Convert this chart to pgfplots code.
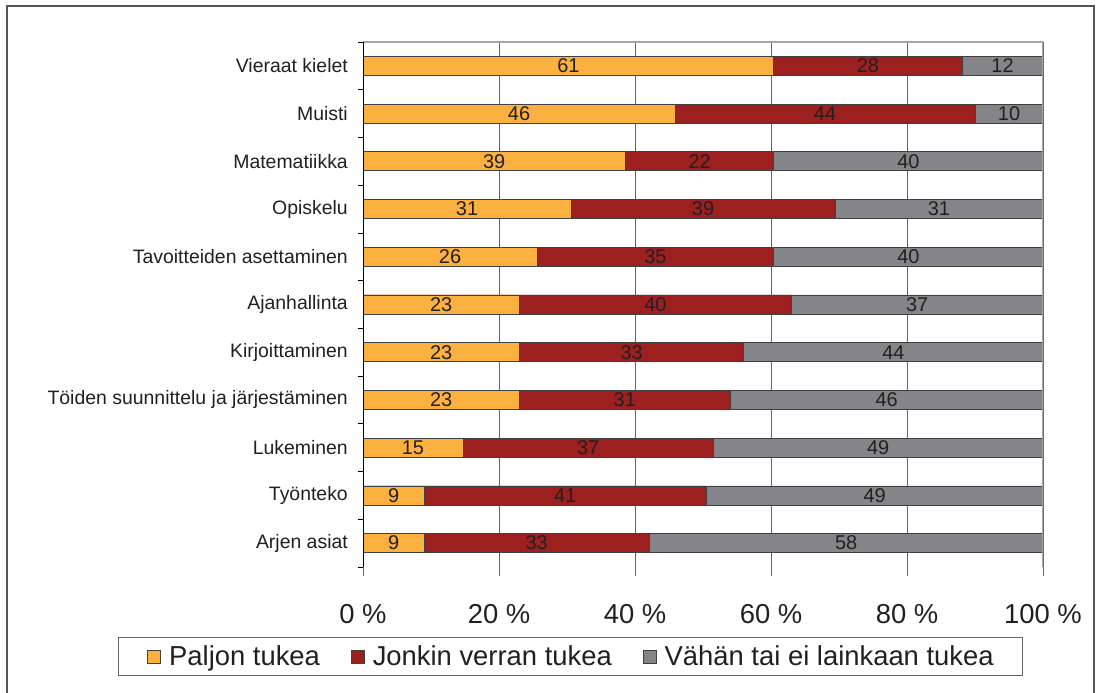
\documentclass[border=0pt]{standalone}
\usepackage{pgfplots}
\pgfplotsset{compat=1.18}
\usepackage{pgfplotstable}
\usepackage{fontspec}
\setmainfont{Liberation Sans}
\definecolor{cOr}{HTML}{FBB040}
\definecolor{cRd}{HTML}{9D2021}
\definecolor{cGy}{HTML}{838588}
\definecolor{cBd}{HTML}{404040}
\definecolor{cGrid}{HTML}{666666}
\definecolor{cTx}{HTML}{231F20}
\definecolor{cFrame}{HTML}{555555}

\pgfplotstableread{
y a b c la lb lc
10 60.4 27.7 11.9 61 28 12
9 45.9 44.1 10.0 46 44 10
8 38.6 21.8 39.6 39 22 40
7 30.6 38.8 30.6 31 39 31
6 25.6 34.8 39.6 26 35 40
5 23.0 40.0 37.0 23 40 37
4 23.0 33.0 44.0 23 33 44
3 23.0 31.0 46.0 23 31 46
2 14.7 36.8 48.5 15 37 49
1 9.0 41.5 49.5 9 41 49
0 9.0 33.1 57.9 9 33 58
}\datatable

\begin{document}
\begin{tikzpicture}
\useasboundingbox (0,0) rectangle (1101bp,693bp);
\draw[cFrame, line width=2bp] (7bp,-10bp) -- (7bp,687bp) -- (1094bp,687bp) -- (1094bp,-10bp);
\begin{axis}[
  at={(363bp,126bp)}, anchor=south west, scale only axis,
  width=680bp, height=525bp,
  xmin=0, xmax=100, ymin=-0.5, ymax=10.5,
  axis line style={draw=none},
  xtick={0,20,...,100},
  xticklabels={0 \%,20 \%,40 \%,60 \%,80 \%,100 \%},
  xtick pos=bottom, ytick pos=left, tick align=outside,
  xmajorgrids, major grid style={cGrid, line width=0.8bp},
  major tick length=9bp, minor tick length=5bp,
  major x tick style={cGrid, line width=0.8bp},
  ytick={0,...,10},
  yticklabels={Arjen asiat,Työnteko,Lukeminen,Töiden suunnittelu ja järjestäminen,Kirjoittaminen,Ajanhallinta,Tavoitteiden asettaminen,Opiskelu,Matematiikka,Muisti,Vieraat kielet},
  major y tick style={draw=none},
  minor ytick={-0.5,0.5,...,10.5},
  minor y tick style={black, line width=0.8bp},
  xticklabel style={font=\fontsize{27.5}{30}\selectfont, text=cTx, yshift=-25bp},
  yticklabel style={font=\fontsize{19.5}{22}\selectfont, text=cTx, inner xsep=0pt, xshift=-6bp},
  reverse legend,
  legend columns=3,
  legend style={at={(axis description cs:-0.3603,-0.1333)}, anchor=north west,
    draw=cGrid, line width=0.8bp, font=\fontsize{27.5}{30}\selectfont, text=cTx,
    inner xsep=29bp, inner ysep=6.5bp, nodes={inner xsep=0bp, inner ysep=2bp},
    /tikz/every even column/.append style={column sep=31bp},
    /tikz/every odd column/.append style={column sep=8bp}},
  legend image code/.code={\draw[#1, draw=cBd, line width=0.8bp] (0bp,-6.5bp) rectangle (13bp,6.5bp);},
]
\addplot[xbar, bar width=19bp, bar shift=0pt, fill=cGy, draw=cBd, line width=0.8bp]
  table[x expr=\thisrow{a}+\thisrow{b}+\thisrow{c}, y=y] {\datatable};
\addlegendentry{Vähän tai ei lainkaan tukea}
\addplot[xbar, bar width=19bp, bar shift=0pt, fill=cRd, draw=cBd, line width=0.8bp]
  table[x expr=\thisrow{a}+\thisrow{b}, y=y] {\datatable};
\addlegendentry{Jonkin verran tukea}
\addplot[xbar, bar width=19bp, bar shift=0pt, fill=cOr, draw=cBd, line width=0.8bp]
  table[x=a, y=y] {\datatable};
\addlegendentry{Paljon tukea}

\pgfplotsset{lbl/.style={forget plot, draw=none, mark=none, nodes near coords,
  nodes near coords align=center, point meta=explicit symbolic,
  every node near coord/.append style={font=\fontsize{20}{22}\selectfont, text=cTx, inner sep=0pt, anchor=center}}}
\addplot[lbl] table[x expr=\thisrow{a}/2, y=y, meta=la] {\datatable};
\addplot[lbl] table[x expr=\thisrow{a}+\thisrow{b}/2, y=y, meta=lb] {\datatable};
\addplot[lbl] table[x expr=\thisrow{a}+\thisrow{b}+\thisrow{c}/2, y=y, meta=lc] {\datatable};

\draw[black!35, line width=1.5bp] (rel axis cs:0,1) -- (rel axis cs:1,1) -- (rel axis cs:1,0);
\draw[black, line width=0.8bp] (rel axis cs:0,1) -- (rel axis cs:0,0) -- (rel axis cs:1,0);
\end{axis}
\end{tikzpicture}
\end{document}
